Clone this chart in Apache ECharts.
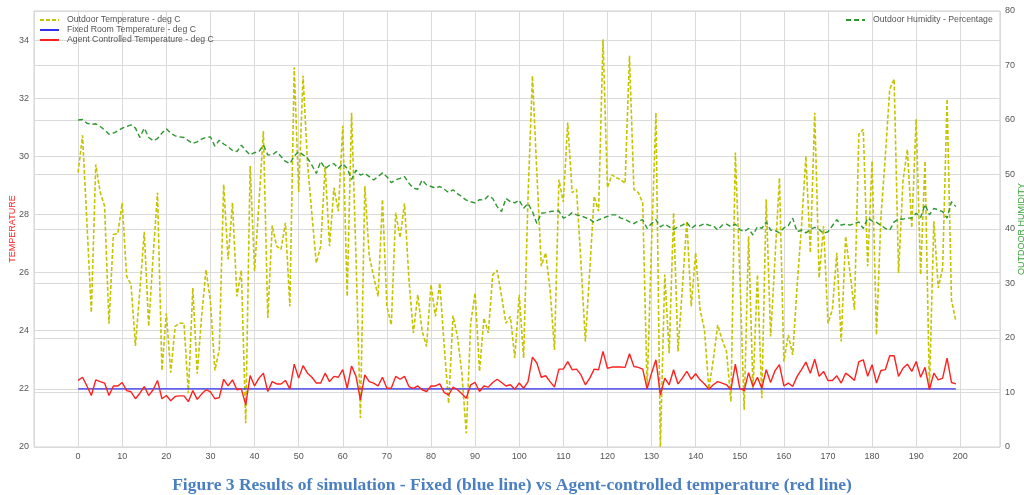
<!DOCTYPE html>
<html>
<head>
<meta charset="utf-8">
<script src="https://cdn.jsdelivr.net/npm/echarts@6/dist/echarts.min.js"></script>
<style>
html,body{margin:0;padding:0;background:#fff;}
#chart{width:1024px;height:495px;}
</style>
</head>
<body>
<div id="chart"></div>
<script>
// x positions: time steps 0..199
const steps = Array.from({length: 200}, (_, i) => i);
const xTicks = [0,10,20,30,40,50,60,70,80,90,100,110,120,130,140,150,160,170,180,190,200];
const leftTicks = [20,22,24,26,28,30,32,34];
const rightTicks = [0,10,20,30,40,50,60,70,80];

const outdoorTemp = [
29.44,30.72,27.7,24.63,29.72,28.77,28.29,24.24,27.31,27.34,
28.4,25.87,25.59,23.48,25.4,27.4,24.15,26.56,28.75,22.63,
24.6,22.56,24.15,24.26,24.26,21.85,25.47,22.52,24.5,26.1,
25.0,22.63,23.35,29.03,26.45,28.4,25.18,26.08,20.82,29.67,
26.05,28.4,30.87,24.44,27.62,26.91,26.8,27.71,24.84,33.06,
28.77,32.77,29.78,28.0,26.33,26.91,29.67,26.91,28.92,28.11,
31.05,25.18,31.5,26.5,21.0,28.98,26.56,25.87,25.18,28.52,
24.84,24.2,28.06,27.2,28.38,25.76,23.92,25.24,23.98,23.46,
25.59,24.49,25.64,23.46,21.5,24.52,23.8,22.54,20.47,24.26,
25.3,22.6,24.44,23.92,25.93,26.08,25.18,24.26,24.49,23.06,
25.24,23.06,28.63,32.77,29.44,26.22,26.68,25.41,23.34,29.2,
28.43,31.16,28.75,28.86,26.33,23.63,26.1,28.63,28.11,34.03,
28.92,29.36,29.26,29.2,29.07,33.46,28.86,28.75,28.4,22.02,
27.0,31.5,20.0,25.93,23.23,28.06,23.29,25.5,27.77,24.84,
26.68,24.72,24.03,21.99,23.0,24.2,23.69,23.29,21.56,30.13,
26.0,21.28,27.25,21.97,25.93,21.68,28.52,23.8,26.5,29.26,
22.94,23.86,23.17,25.53,27.6,30.01,26.68,31.5,25.82,27.6,
24.26,24.72,26.68,23.63,27.25,25.99,24.72,30.76,30.93,26.22,
29.84,23.86,27.89,30.0,32.31,32.66,25.99,29.15,30.24,27.54,
31.28,25.93,29.84,21.97,27.77,25.47,26.16,31.97,25.07,24.32
];

const fixedRoomTemp = Array.from({length: 200}, () => 22);

const agentTemp = [
22.29,22.40,22.1,21.77,22.31,22.25,22.2,21.77,22.1,22.1,
22.22,21.94,21.9,21.66,21.85,22.08,21.77,21.97,22.29,21.66,
21.77,21.59,21.74,21.76,21.76,21.56,21.94,21.64,21.82,21.97,
21.9,21.66,21.7,22.33,22.1,22.31,21.97,22.0,21.45,22.46,
22.1,22.37,22.54,21.91,22.25,22.17,22.17,22.29,21.99,22.85,
22.37,22.8,22.54,22.4,22.2,22.2,22.54,22.25,22.43,22.4,
22.66,22.02,22.79,22.43,21.62,22.48,22.25,22.2,22.1,22.4,
22.02,22.02,22.43,22.33,22.43,22.08,22.02,22.1,21.97,21.91,
22.1,22.1,22.17,21.87,21.79,22.06,21.97,21.83,21.68,22.14,
22.22,21.91,22.1,22.06,22.22,22.33,22.22,22.1,22.14,21.99,
22.2,22.02,22.25,23.09,22.89,22.4,22.45,22.25,22.06,22.68,
22.68,22.94,22.66,22.68,22.48,22.14,22.37,22.68,22.66,23.29,
22.71,22.75,22.75,22.75,22.74,23.21,22.77,22.74,22.68,22.0,
22.54,23.0,21.79,22.37,22.14,22.66,22.17,22.37,22.6,22.33,
22.52,22.31,22.17,21.99,22.14,22.25,22.2,22.14,21.97,22.85,
22.02,21.94,22.56,22.08,22.4,22.02,22.66,22.22,22.63,22.83,
22.1,22.2,22.08,22.43,22.66,22.92,22.54,23.02,22.43,22.6,
22.29,22.29,22.45,22.2,22.54,22.43,22.29,22.94,23.0,22.43,
22.83,22.2,22.63,22.66,23.14,23.14,22.43,22.71,22.85,22.6,
22.94,22.4,22.74,21.97,22.54,22.31,22.37,23.06,22.22,22.17
];

const outdoorHumidity = [
60.0,60.1,59.4,59.2,59.3,58.8,58.2,57.4,57.6,58.0,
58.5,58.8,59.1,58.5,56.8,58.5,56.8,56.2,56.6,57.6,
58.4,57.6,57.1,56.9,56.8,56.2,55.7,56.0,56.5,56.8,
56.9,55.2,56.3,55.6,55.1,54.4,54.2,55.4,54.4,53.6,
54.0,54.2,55.4,53.6,53.6,54.2,53.3,52.4,52.0,53.4,
54.2,53.6,53.0,51.7,50.2,52.4,51.1,51.7,52.0,51.1,
52.0,51.1,49.1,50.8,49.9,50.2,49.6,49.0,49.6,50.3,
49.6,48.5,49.0,49.3,49.6,48.4,47.5,47.3,49.0,48.1,
47.8,47.5,47.8,47.3,46.7,47.2,46.5,45.9,45.3,45.0,
44.8,45.4,45.3,46.1,45.6,44.1,43.2,45.6,45.0,44.8,
45.3,43.8,44.7,43.2,41.0,42.9,43.0,43.2,43.3,43.3,
42.0,42.3,43.0,42.6,42.4,42.1,41.8,41.2,41.7,42.0,
42.3,42.6,42.6,42.0,41.8,41.3,41.0,41.5,41.7,40.1,
41.0,41.7,40.4,40.9,40.4,39.9,40.4,40.7,41.2,40.1,
40.7,40.6,41.0,40.7,40.6,39.8,40.7,40.9,40.4,40.9,
39.9,39.5,40.1,38.9,40.4,40.1,41.3,39.8,39.7,39.3,
40.2,40.6,42.0,39.5,39.8,39.3,39.9,40.3,39.9,39.2,
39.5,40.6,41.7,40.7,40.9,40.7,41.0,41.3,40.1,42.0,
41.5,41.2,40.7,40.1,39.8,41.3,41.8,41.8,42.0,42.0,
42.9,42.1,44.5,42.6,43.8,43.5,43.2,42.0,45.0,44.1
];

const seriesNames = [
  'Outdoor Temperature - deg C',
  'Fixed Room Temperature - deg C',
  'Agent Controlled Temperature - deg C',
  'Outdoor Humidity - Percentage'
];
const titleText = 'Figure 3 Results of simulation - Fixed (blue line) vs Agent-controlled temperature (red line)';

const pairs = arr => steps.map((x, i) => [x, arr[i]]);

const FONT = 'Liberation Sans, Arial, sans-serif';
const gridColor = '#dadada';

const chart = echarts.init(document.getElementById('chart'), null, {renderer: 'canvas'});
chart.setOption({
  animation: false,
  backgroundColor: '#ffffff',
  title: {
    text: titleText,
    left: 'center',
    top: 471,
    textStyle: {fontFamily: 'Liberation Serif, Times New Roman, serif', fontWeight: 'bold', fontSize: 17.5, color: '#4a7fc1'}
  },
  legend: [
    {
      data: seriesNames.slice(0, 3),
      orient: 'vertical',
      left: 39, top: 15,
      itemWidth: 19, itemHeight: 8, itemGap: 0,
      itemStyle: {opacity: 0},
      textStyle: {fontFamily: FONT, fontSize: 8.7, lineHeight: 10, color: '#555', padding: [0,0,0,3]},
      padding: 0
    },
    {
      data: [seriesNames[3]],
      orient: 'vertical',
      left: 845, top: 15,
      itemWidth: 19, itemHeight: 8,
      itemStyle: {opacity: 0},
      textStyle: {fontFamily: FONT, fontSize: 8.7, lineHeight: 10, color: '#555', padding: [0,0,0,3]},
      padding: 0
    }
  ],
  grid: {left: 34, right: 24, top: 11, bottom: 48, show: true, borderColor: '#d0d0d0', borderWidth: 1, containLabel: false, outerBoundsMode: 'none'},
  xAxis: {
    type: 'value', min: -10, max: 209, interval: 10,
    axisLine: {show: false}, axisTick: {show: false},
    axisLabel: {showMinLabel: false, showMaxLabel: false, fontFamily: FONT, fontSize: 9, color: '#555', margin: 5,
      formatter: v => xTicks.includes(v) ? String(v) : ''},
    splitLine: {show: true, lineStyle: {color: gridColor, width: 1}}
  },
  yAxis: [
    {
      type: 'value', min: 20, max: 35, interval: 2,
      name: 'TEMPERATURE', nameLocation: 'middle', nameGap: 17, nameRotate: 90, nameMoveOverlap: false,
      nameTextStyle: {color: '#ff2020', fontFamily: FONT, fontSize: 9},
      axisLine: {show: false}, axisTick: {show: false},
      axisLabel: {showMaxLabel: false, fontFamily: FONT, fontSize: 9, color: '#555', margin: 5,
        formatter: v => leftTicks.includes(v) ? String(v) : ''},
      splitLine: {show: true, lineStyle: {color: gridColor, width: 1}}
    },
    {
      type: 'value', min: 0, max: 80, interval: 10, position: 'right',
      name: 'OUTDOOR HUMIDITY', nameLocation: 'middle', nameGap: 17, nameRotate: 90, nameMoveOverlap: false,
      nameTextStyle: {color: '#3aa03a', fontFamily: FONT, fontSize: 9},
      axisLine: {show: false}, axisTick: {show: false},
      axisLabel: {fontFamily: FONT, fontSize: 9, color: '#555', margin: 5,
        formatter: v => rightTicks.includes(v) ? String(v) : ''},
      splitLine: {show: true, lineStyle: {color: gridColor, width: 1}}
    }
  ],
  series: [
    {
      name: seriesNames[0], type: 'line', yAxisIndex: 0, data: pairs(outdoorTemp),
      symbol: 'none', lineStyle: {color: '#c4c400', width: 1.6, type: [4, 2]}, itemStyle: {color: '#c4c400'}, z: 2
    },
    {
      name: seriesNames[1], type: 'line', yAxisIndex: 0, data: pairs(fixedRoomTemp),
      symbol: 'none', lineStyle: {color: '#3030f0', width: 1.4}, itemStyle: {color: '#3030f0'}, z: 3
    },
    {
      name: seriesNames[2], type: 'line', yAxisIndex: 0, data: pairs(agentTemp),
      symbol: 'none', lineStyle: {color: '#ff2020', width: 1.4}, itemStyle: {color: '#ff2020'}, z: 4
    },
    {
      name: seriesNames[3], type: 'line', yAxisIndex: 1, data: pairs(outdoorHumidity),
      symbol: 'none', lineStyle: {color: '#2e962e', width: 1.4, type: [5, 3]}, itemStyle: {color: '#2e962e'}, z: 5
    }
  ]
});
</script>
</body>
</html>
